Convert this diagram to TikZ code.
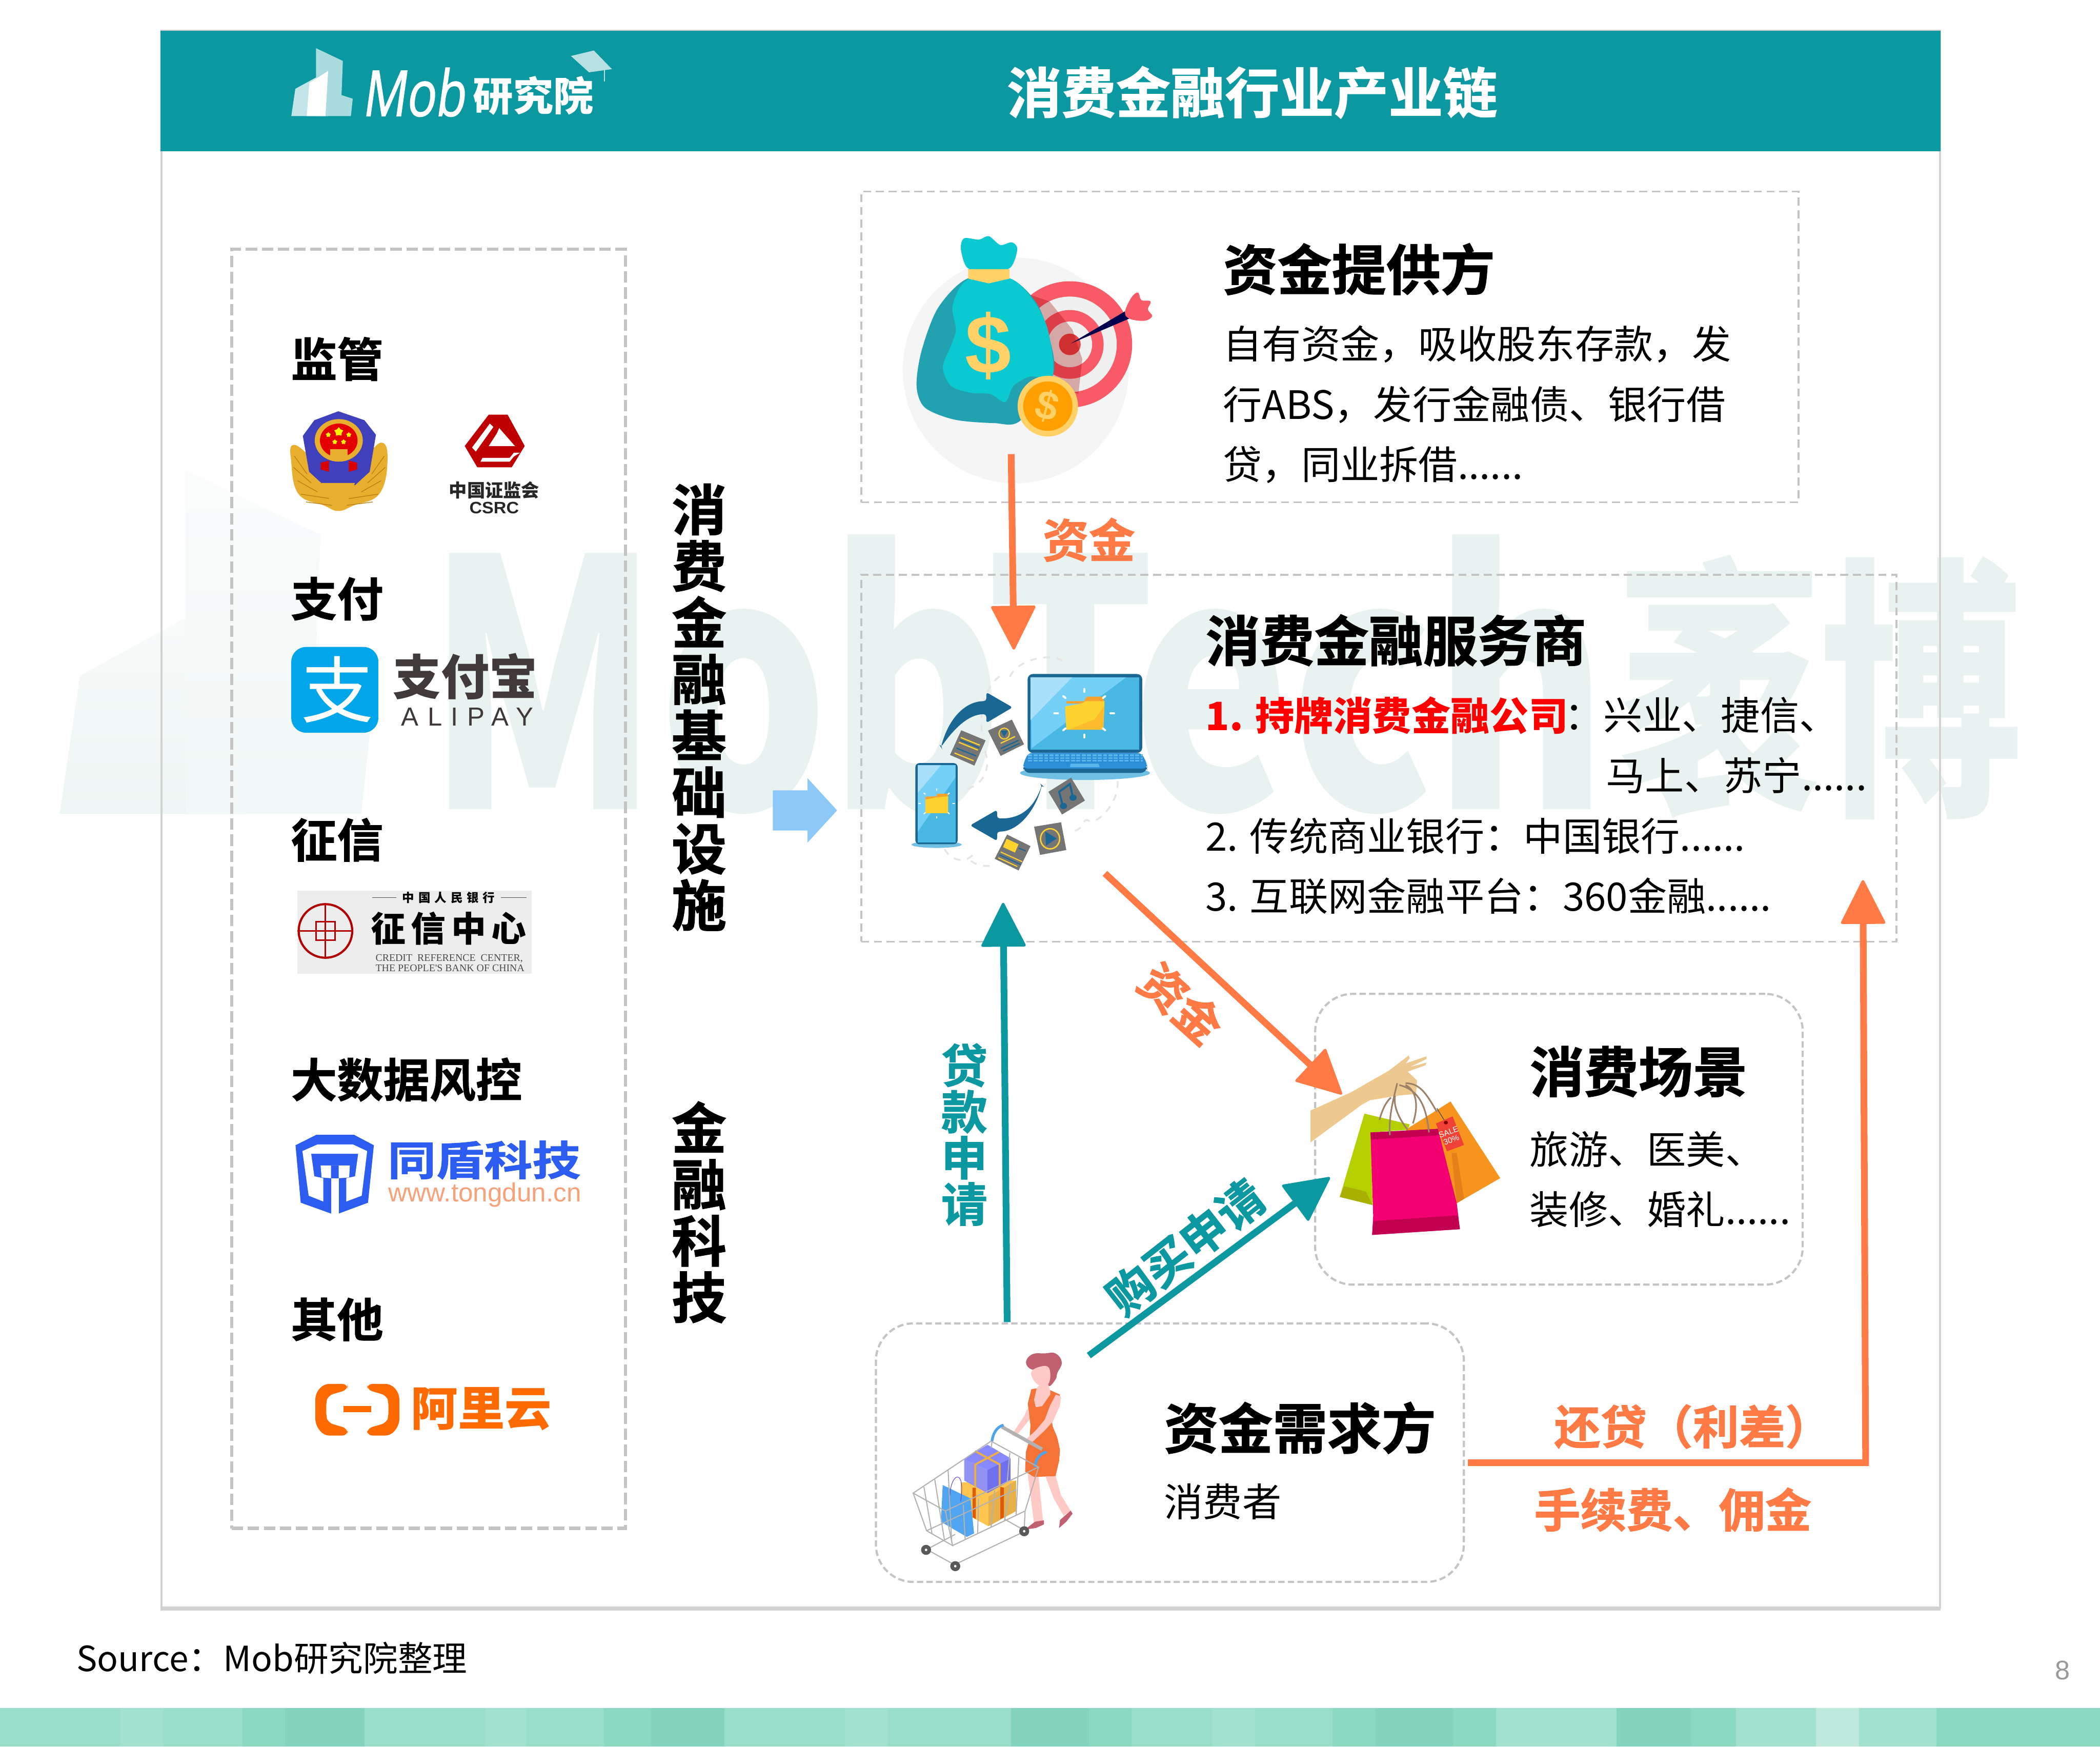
\documentclass[tikz,border=0pt]{standalone}
\usepackage{fontspec}
\setmainfont{Noto Sans CJK SC}
\newfontfamily\heavyfont[FakeBold=1.2]{Noto Sans CJK SC Bold}
\newfontfamily\latinfont{Liberation Sans}
\newfontfamily\alipayfont[LetterSpace=34]{Liberation Sans}
\newfontfamily\logofont[FakeSlant=0.14,FakeStretch=0.76,FakeBold=1.2]{Open Sans}
\newfontfamily\creditfont{Liberation Serif}
\usetikzlibrary{arrows.meta,shapes.geometric}
\newcommand{\fsz}[1]{\fontsize{#1}{#1}\selectfont}
\definecolor{teal0}{HTML}{0B98A0}
\definecolor{orange0}{HTML}{FF7A45}
\definecolor{gray0}{HTML}{C4C4C4}
\definecolor{wmark}{HTML}{E8F3F1}
\definecolor{dkblue}{HTML}{1A6794}
\definecolor{card}{HTML}{757575}
\definecolor{hair}{HTML}{C06070}
\definecolor{skin}{HTML}{FFC9C5}
\definecolor{band0}{HTML}{99DEC9}
\definecolor{band1}{HTML}{A2E1CE}
\definecolor{band2}{HTML}{8CD9C1}
\definecolor{band3}{HTML}{83D4BC}
\definecolor{scrA}{HTML}{48B8E3}
\definecolor{scrB}{HTML}{74D0F6}
\definecolor{scrC}{HTML}{A9DFF8}
\definecolor{shad}{HTML}{6FC0E2}
\definecolor{kbd}{HTML}{2A8FD6}
\definecolor{keyc}{HTML}{5AB5EA}
\definecolor{foldY}{HTML}{FFD32F}
\definecolor{foldB}{HTML}{FDBB2D}
\definecolor{foldO}{HTML}{F7A12F}
\definecolor{bagA}{HTML}{0BC9D0}
\definecolor{bagB}{HTML}{22A2B0}
\definecolor{sun}{HTML}{FFD166}
\definecolor{aim}{HTML}{F85A68}
\definecolor{gold}{HTML}{E8AE2E}
\definecolor{golddk}{HTML}{B97F14}
\definecolor{alitext}{HTML}{3F3A39}
\definecolor{alicyan}{HTML}{00A5EA}
\definecolor{aliorange}{HTML}{FF6A00}
\definecolor{tdblue}{HTML}{2D5CF0}
\definecolor{tdorange}{HTML}{F7A27B}
\definecolor{hand}{HTML}{EEC98F}
\definecolor{sackO}{HTML}{F7941E}
\definecolor{sackOd}{HTML}{E4801A}
\definecolor{sackG}{HTML}{B4D000}
\definecolor{sackGd}{HTML}{AAB000}
\definecolor{sackP}{HTML}{F20071}
\definecolor{sackPd}{HTML}{C20050}
\definecolor{tagred}{HTML}{EF4136}
\definecolor{dress}{HTML}{F57336}
\definecolor{grip}{HTML}{4DA3EE}
\definecolor{boxY}{HTML}{FEC551}
\definecolor{boxYd}{HTML}{E8B048}
\definecolor{boxRib}{HTML}{E05A08}
\definecolor{boxL}{HTML}{9292F2}
\definecolor{boxR}{HTML}{7070EE}
\definecolor{boxT}{HTML}{8888FF}
\definecolor{ribbon}{HTML}{F0B040}
\definecolor{totebag}{HTML}{4FA5EF}
\definecolor{toteloop}{HTML}{5540E0}
\definecolor{pointer}{HTML}{8CC8F8}
\begin{document}
\begin{tikzpicture}[x=1pt,y=-1pt,
    txt/.style={inner sep=0pt,anchor=west},
    heading/.style={txt,font=\heavyfont\fsz{40.6}},
    sidehead/.style={txt,font=\heavyfont\fsz{34.5}},
    body/.style={txt,font=\fsz{29.2}},
    stack/.style={inner sep=0pt,align=center,font=\heavyfont\fontsize{41}{42.2}\selectfont},
    dashbox/.style={draw=gray0,line width=1.4pt,dash pattern=on 6pt off 3.5pt,inner sep=0pt},
    sidebox/.style={draw=gray0,line width=2.5pt,dash pattern=on 8.5pt off 3.5pt,inner sep=0pt},
    roundbox/.style={draw=gray0,line width=1.6pt,dash pattern=on 4.7pt off 2.4pt,inner sep=0pt,rounded corners=28pt},
    flowtxt/.style={inner sep=0pt,font=\heavyfont\fsz{34.5},text=orange0},
    loantxt/.style={inner sep=0pt,font=\heavyfont\fsz{34.5},text=teal0},
    oflow/.style={draw=orange0,line width=5pt,-{Triangle[length=34pt,width=34pt,line width=2pt,round]}},
    tflow/.style={draw=teal0,line width=5pt,-{Triangle[length=34pt,width=34pt,line width=2pt,round]}},
    keys/.style={line width=1.4pt,dash pattern=on 3pt off 1pt},
    cartline/.style={draw=gray!60,line width=.8pt}]
\useasboundingbox (0,0) rectangle (1568,1304);
\fill[white] (0,0) rectangle (1568,1304);
% watermark
\begin{scope}[shift={(-1056,169)},scale=5.06]
\shade[top color=wmark!25,bottom color=wmark!80] (217.5,86.7)--(220.5,66.3)--(245,52.9)--(245,86.7)--cycle;
\shade[top color=wmark!25,bottom color=wmark!60] (236,36)--(256,45.5)--(255,71)--(263.4,73.7)--(262,86.7)--(236,86.7)--cycle;
\end{scope}
\node[inner sep=0pt,anchor=south west,text=wmark](MarkEn) at (318,608){\resizebox{882pt}{205pt}{\bfseries MobTech}};
\node[inner sep=0pt,anchor=south west,text=wmark](MarkCn) at (1208,612){\resizebox{302pt}{178pt}{\bfseries 袤博}};
% bottom band
\foreach \a/\b/\c in {0/90/band0,90/122/band1,122/181/band0,181/213/band2,213/272/band3,272/362/band0,362/393/band1,393/451/band0,451/486/band2,486/541/band3,541/631/band0,631/663/band1,663/755/band0,755/813/band3,813/845/band2,845/905/band0,905/937/band1,937/995/band0,995/1027/band2,1027/1085/band3,1085/1117/band2,1117/1207/band1,1207/1263/band3,1263/1296/band2,1296/1356/band1,1356/1388/band1!70!white,1388/1446/band1,1446/1478/band2,1478/1568/band2}
    \fill[\c] (\a,1275) rectangle (\b,1304);
% frame and header
\draw[draw=gray!35,line width=1.6pt] (120.5,23) rectangle (1448.5,1200);
\fill[gray!35] (120,1199.9) rectangle (1449,1202.3);
\fill[teal0] (120,23) rectangle (1449,113);
\node[inner sep=0pt,font=\heavyfont\fsz{40.7},text=white](Title) at (935,69){消费金融行业产业链};
\fill[teal0!25!white] (217.5,86.7)--(220.5,66.3)--(245,52.9)--(245,86.7)--cycle;
\fill[teal0!35!white] (236,36)--(256,45.5)--(255,71)--(263.4,73.7)--(262,86.7)--(236,86.7)--cycle;
\fill[white] (229,86.7)--(231,62)--(245,52.9)--(243,86.7)--cycle;
\fill[teal0!30!white] (426.3,41.8)--(443.4,37.7)--(456.9,51.6)--(439.8,54)--cycle;
\draw[teal0!30!white,line width=.8pt] (451.5,52)--(451.5,61);
\node[inner sep=0pt,anchor=base west,text=white,font=\logofont\fsz{47.5}](MobLogo) at (270,86.7){Mob};
\node[inner sep=0pt,anchor=base west,text=white,font=\bfseries\fsz{30}](MobLab) at (353,83){研究院};
% left column
\node[sidebox,minimum width=294pt,minimum height=955pt](Infra) at (320,663.5){};
\node[sidehead](Regulate) at (217,268){监管};
\node[sidehead](Payment) at (217,447){支付};
\node[sidehead](Credit) at (217,627){征信};
\node[sidehead](BigData) at (217,806){大数据风控};
\node[sidehead](Others) at (217,985){其他};
% police badge and csrc
\begin{scope}[shift={(202.7,297)},xscale=.156,yscale=.1672]
\fill[gold] plot[smooth cycle,tension=.7] coordinates {(110,210)(95,290)(130,430)(250,480)(320,505)(395,480)(515,430)(555,290)(525,200)(400,300)(250,300)};
\foreach \p/\q/\r/\s in {110/260/170/340,105/310/190/380,125/370/220/420,140/430/280/450,165/465/290/480,540/260/480/340,545/310/460/380,525/370/430/420,510/430/370/450,485/465/360/480}
    \draw[golddk,line width=.5pt] (\p,\q)--(\r,\s);
\fill[blue!65!black!75!white] (150,170)--(205,100)--(320,60)--(445,100)--(500,165)--(470,330)--(400,390)--(250,390)--(180,330)--cycle;
\fill[gold] (322,190) ellipse (115 and 95);
\fill[red!90!black] (322,190) ellipse (90 and 75);
\fill[gold] (280,230) rectangle (365,265);
\fill[red!85!black] (235,290)--(275,280)--(275,330)--(235,320)--cycle;
\fill[red!85!black] (410,290)--(370,280)--(370,330)--(410,320)--cycle;
\fill[gold] (240,380)--(400,380)--(340,500)--(300,500)--cycle;
\foreach \i/\p/\q/\m in {1/322/152/7pt,2/272/165/4pt,3/370/165/4pt,4/303/197/4pt,5/345/197/4pt}
    \node[star,star points=5,fill=yellow,inner sep=0pt,minimum size=\m](Star\i) at (\p,\q){};
% csrc sign
\fill[red!75!black] (1040,75)--(1130,75)--(1212,215)--(1150,310)--(985,310)--(925,215)--cycle;
\fill[white] (1045,115)--(960,222)--(978,240)--(1062,130)--cycle;
\fill[white] (1090,135)--(1165,215)--(1040,215)--(1078,160)--cycle;
\fill[white] (1010,268)--(1140,268)--(1160,245)--(1190,245)--(1160,262)--(1140,285)--(1000,285)--cycle;
\end{scope}
\node[inner sep=0pt,font=\bfseries\fsz{13.5},text=black!85](CsrcCn) at (369,366){中国证监会};
\node[inner sep=0pt,font=\latinfont\bfseries,text=black!85](CsrcEn) at (369,379){\resizebox{37pt}{8.6pt}{CSRC}};
% alipay
\node[fill=alicyan,rounded corners=11pt,minimum width=65pt,minimum height=64pt,inner sep=0pt](PayIcon) at (250,515){};
\node[inner sep=0pt,text=white,font=\fsz{54}](PayGlyph) at (252,515){支};
\node[inner sep=0pt,text=alitext,font=\bfseries\fsz{36}](PayCn) at (347.5,505){支付宝};
\node[inner sep=0pt,text=alitext,font=\alipayfont\fsz{19.5}](PayEn) at (349,535){ALIPAY};
% credit center
\node[fill=black!7,minimum width=175pt,minimum height=62pt,inner sep=0pt](CreditBg) at (309.5,696){};
\node[draw=red!70!black,circle,line width=1.6pt,minimum size=40pt,inner sep=0pt](CreditSeal) at (243,695){};
\draw[red!70!black,line width=1.2pt] (CreditSeal.west)--(CreditSeal.east) (CreditSeal.north)--(CreditSeal.south) (236,688) rectangle (250,702);
\node[inner sep=0pt,font=\bfseries\fsz{9}](CreditTop) at (335,670){中\hspace{3pt}国\hspace{3pt}人\hspace{3pt}民\hspace{3pt}银\hspace{3pt}行};
\draw[black!70,line width=.4pt] (278,670)--(296,670) (374,670)--(393,670);
\node[inner sep=0pt,font=\bfseries\fsz{26}](CreditName) at (335,693){征\hspace{4pt}信\hspace{4pt}中\hspace{4pt}心};
\node[inner sep=0pt,align=left,font=\creditfont\fsz{7.6},text=black!70](CreditEn) at (336,719){CREDIT\ \ REFERENCE\ \ CENTER,\\THE PEOPLE'S BANK OF CHINA};
% tongdun
\begin{scope}[shift={(202.7,646.4)},xscale=.156,yscale=.2897]
\fill[tdblue] (115,720)--(215,693)--(395,693)--(490,720)--(462,868)--(322,896)--(285,896)--(140,868)--cycle;
\fill[white] (148,735)--(220,718)--(390,718)--(458,735)--(432,850)--(358,865)--(358,805)--(400,800)--(415,742)--(190,742)--(205,800)--(248,805)--(248,865)--(178,850)--cycle;
\fill[white] (235,772)--(375,772)--(372,803)--(322,805)--(322,772)--(285,772)--(285,805)--(240,803)--cycle;
\fill[white] (285,805) rectangle (322,896);
\end{scope}
\node[inner sep=0pt,text=tdblue,font=\heavyfont](TdCn) at (361.5,866){\resizebox{144pt}{26pt}{同盾科技}};
\node[inner sep=0pt,text=tdorange](TdEn) at (362,892){\resizebox{144pt}{!}{\latinfont www.tongdun.cn}};
% aliyun
\begin{scope}[shift={(202.7,646.4)},xscale=.156,yscale=.2897]
\fill[aliorange,rounded corners=4pt] (365,1335)--(250,1335)--(210,1360)--(210,1440)--(250,1468)--(365,1468)--(365,1450)--(270,1435)--(262,1420)--(262,1380)--(270,1365)--(365,1350)--cycle;
\fill[aliorange,rounded corners=4pt] (457,1335)--(572,1335)--(612,1360)--(612,1440)--(572,1468)--(457,1468)--(457,1450)--(552,1435)--(560,1420)--(560,1380)--(552,1365)--(457,1350)--cycle;
\fill[aliorange] (345,1392) rectangle (478,1408);
\end{scope}
\node[inner sep=0pt,text=aliorange,font=\bfseries\fsz{35}](AliCn) at (359.5,1052){阿里云};
% middle column
\node[stack](InfraTxt) at (522,528){消\\费\\金\\融\\基\\础\\设\\施};
\node[stack](TechTxt) at (522,905){金\\融\\科\\技};
\fill[pointer] (577,590)--(603,590)--(603,581)--(625,605)--(603,629)--(603,620)--(577,620)--cycle;
% boxes
\node[dashbox,minimum width=700pt,minimum height=232pt](Provider) at (993,259){};
\node[dashbox,minimum width=773pt,minimum height=274pt](Servicer) at (1029.5,566){};
\node[roundbox,minimum width=364pt,minimum height=217pt](Scene) at (1164,850.5){};
\node[roundbox,minimum width=439pt,minimum height=193pt](Borrower) at (873.5,1084.5){};
% money bag
\begin{scope}[shift={(646.4,139.8)},xscale=.245,yscale=.2005]
\fill[black!4] (457,682) ellipse (344 and 420);
\fill[aim] (622,585) ellipse (190 and 235);
\fill[black!6] (622,585) ellipse (143 and 178);
\fill[aim] (622,585) ellipse (103 and 128);
\fill[black!6] (622,585) ellipse (68 and 85);
\fill[red!70!white!90!black] (622,585) ellipse (33 and 40);
\fill[red!60!black,opacity=.3] (500,400)--(560,425)--(630,530)--(660,640)--(648,770)--(560,720)--cycle;
\fill[blue!30!black] (625,582)--(790,462)--(805,488)--cycle;
\fill[aim] plot[smooth cycle,tension=.6] coordinates {(790,465)(810,410)(830,392)(840,420)(868,425)(860,455)(873,480)(850,497)(805,490)};
\fill[bagB] plot[smooth cycle,tension=.5] coordinates {(310,340)(440,340)(520,430)(560,560)(570,700)(470,870)(390,878)(270,865)(180,820)(155,740)(170,610)(220,450)};
\fill[bagA] plot[smooth cycle,tension=.5] coordinates {(310,345)(440,340)(510,420)(555,530)(570,700)(500,705)(450,740)(425,800)(380,770)(320,765)(260,740)(235,670)(260,590)(275,530)(265,440)};
\fill[bagA] plot[smooth cycle,tension=.5] coordinates {(290,230)(300,190)(345,195)(375,182)(410,215)(445,205)(462,230)(440,300)(372,315)(310,300)};
\fill[sun] (312,305)--(438,305)--(438,340)--(375,358)--(312,340)--cycle;
\fill[sun] (555,815) ellipse (92 and 113);
\fill[orange!75!yellow] (555,815) ellipse (75 and 92);
\end{scope}
\node[inner sep=0pt,text=sun,font=\latinfont\bfseries\fsz{62}](BagDollar) at (738,258){\$};
\node[inner sep=0pt,rotate=-15,text=sun,font=\latinfont\bfseries\fsz{30}](CoinDollar) at (782,303){\$};
% laptop and phone
\begin{scope}[shift={(646.4,454.2)},xscale=.1783,yscale=.1449]
\draw[black!10,line width=1.3pt,dash pattern=on 5pt off 5pt] (825,270) .. controls (760,220) and (600,280) .. (600,380) (560,350) .. controls (470,440) and (470,620) .. (510,780) .. controls (510,870) and (470,920) .. (410,935);
\draw[black!10,line width=1.3pt,dash pattern=on 5pt off 5pt] (1055,890) .. controls (1060,1000) and (980,1100) .. (940,1100) .. controls (900,1060) and (930,1150) .. (850,1150) (330,1240) .. controls (360,1310) and (440,1320) .. (460,1240) (440,1300) .. controls (470,1330) and (510,1330) .. (530,1325);
\fill[shad] (918,848) ellipse (272 and 36);
\fill[dkblue,rounded corners=4pt] (678,338) rectangle (1158,745);
\fill[scrA] (690,355) rectangle (1145,728);
\fill[scrB] (695,720)--(1090,355)--(690,355)--cycle;
\fill[scrC] (690,575)--(865,355)--(690,355)--cycle;
\fill[foldO] (840,478)--(915,478)--(925,455)--(995,455)--(1000,490)--(840,490)--cycle;
\fill[foldY] (835,505)--(905,490)--(920,478)--(1000,478)--(995,625)--(840,625)--cycle;
\fill[foldB] (850,625)--(995,625)--(1000,500)--(960,570)--cycle;
\foreach \a in {0,45,...,315}
    \draw[white,line width=1.5pt,line cap=round,shift={(915,540)}] (\a:125)--(\a:110);
\fill[dkblue,rounded corners=5pt] (660,800)--(1178,800)--(1178,848)--(660,848)--cycle;
\fill[kbd,rounded corners=3pt] (680,745)--(1155,745)--(1178,800)--(1178,825)--(660,825)--(660,800)--cycle;
\foreach \y in {757,771,785}
    \draw[keys,keyc] (680,\y)--(1160,\y);
\fill[keyc] (858,800)--(975,800)--(980,818)--(855,818)--cycle;
% phone
\fill[shad] (297,1217) ellipse (105 and 17);
\fill[dkblue,rounded corners=3pt] (208,797) rectangle (385,1215);
\fill[scrA] (218,808) rectangle (376,1205);
\fill[scrB] (218,1150)--(376,870)--(376,808)--(218,808)--cycle;
\fill[scrC] (218,950)--(315,808)--(218,808)--cycle;
\fill[foldO] (250,970)--(295,968)--(300,955)--(345,955)--(345,975)--(250,985)--cycle;
\fill[foldY] (250,985)--(290,975)--(345,968)--(345,1055)--(250,1055)--cycle;
\foreach \a in {0,45,...,315}
    \draw[white,line width=.9pt,line cap=round,shift={(297,1005)}] (\a:75)--(\a:68);
% curved arrows
\fill[dkblue,rounded corners=2pt] (315,715) .. controls (350,560) and (420,478) .. (505,478)--(505,432)--(615,510)--(505,590)--(505,545) .. controls (430,545) and (370,620) .. cycle;
\fill[dkblue,rounded corners=2pt] (738,910) .. controls (700,1040) and (640,1085) .. (550,1082)--(550,1038)--(437,1118)--(550,1198)--(550,1150) .. controls (640,1150) and (710,1040) .. cycle;
% cards
\fill[card] (400,628)--(502,680)--(455,810)--(353,755)--cycle;
\draw[foldY,line width=.9pt] (398,665)--(478,705) (390,690)--(470,730) (372,745)--(452,785);
\draw[dkblue,line width=.9pt] (395,678)--(475,718) (380,720)--(462,760);
\fill[card] (612,573)--(663,700)--(565,760)--(512,630)--cycle;
\draw[foldY,line width=.8pt] (580,645) ellipse (22 and 28);
\fill[dkblue] (565,630)--(595,630)--(580,662)--cycle;
\draw[foldY,line width=.9pt] (565,695)--(625,660);
\draw[dkblue,line width=.9pt] (565,722)--(640,680) (575,735)--(645,695);
\fill[card] (860,872)--(918,990)--(822,1062)--(765,945)--cycle;
\draw[dkblue,line width=1.5pt] (825,1015)--(810,945)--(855,905)--(870,985);
\fill[dkblue] (828,1018) ellipse (15 and 16) (868,975) ellipse (15 and 16);
\fill[card] (705,1125)--(818,1102)--(840,1245)--(730,1270)--cycle;
\draw[foldY,line width=1pt] (772,1187) ellipse (40 and 52);
\fill[dkblue] (752,1150)--(800,1185)--(755,1222)--cycle;
\fill[card] (592,1165)--(690,1225)--(640,1350)--(540,1290)--cycle;
\fill[foldY] (590,1187)--(640,1215)--(625,1258)--(575,1230)--cycle;
\draw[foldY,line width=.8pt] (565,1255)--(655,1305) (555,1285)--(635,1330);
\draw[dkblue,line width=.8pt] (560,1270)--(650,1320) (640,1235)--(670,1250);
\end{scope}
% shopping bags
\begin{scope}[shift={(943.4,733.8)},xscale=.156,yscale=.1337]
\fill[hand] (225,712)--(250,700)--(420,610)--(600,490)--(695,405)--(700,420)--(680,450)--(780,410)--(780,425)--(700,470)--(780,445)--(775,460)--(690,495)--(735,545)--(730,620)--(680,625)--(640,630)--(510,655)--(470,680)--(225,890)--cycle;
\fill[sackO] (680,820)--(895,662)--(1133,1090)--(925,1230)--cycle;
\fill[sackOd] (900,950)--(925,950)--(960,1205)--(925,1230)--cycle;
\fill[sackG] (483,730)--(700,790)--(690,820)--(515,835)--(522,1240)--(365,1195)--cycle;
\fill[sackGd] (385,1135)--(490,1165)--(522,1240)--(365,1195)--cycle;
\fill[sackP] (512,835)--(835,815)--(925,1230)--(940,1375)--(520,1407)--(525,1300)--cycle;
\fill[sackPd] (512,835)--(835,815)--(842,850)--(515,875)--cycle;
\fill[sackPd] (525,1330)--(930,1298)--(940,1375)--(520,1407)--cycle;
\draw[brown!60!black!70,line width=1.2pt] (555,765) .. controls (570,700) and (590,660) .. (610,640) (605,850) .. controls (600,750) and (615,680) .. (640,560) (690,820) .. controls (650,760) and (620,690) .. (630,630) (715,785) .. controls (745,680) and (730,600) .. (680,570) (792,835) .. controls (780,700) and (750,600) .. (650,570) (830,720) .. controls (780,620) and (750,560) .. (680,560);
\draw[black!70,line width=.5pt] (830,700)--(872,780);
\fill[tagred] (825,785)--(905,745)--(960,905)--(878,940)--cycle;
\fill[black!50!red] (873,780) circle (10);
\end{scope}
\node[inner sep=0pt,rotate=20,align=center,text=white,font=\latinfont\fsz{6}](SaleTag) at (1082.6,848){SALE\\30\%};
% shopper
\begin{scope}[shift={(646.4,978.3)},scale=.1337]
\fill[skin] (905,915)--(965,930)--(990,1175)--(940,1190)--cycle;
\fill[skin] (1005,930)--(1060,920)--(1090,1030)--(1145,1120)--(1105,1145)--(1050,1050)--cycle;
\fill[hair] (900,1215)--(945,1180)--(995,1172)--(995,1195)--(950,1215)--(900,1222)--cycle;
\fill[hair] (1145,1118)--(1155,1135)--(1120,1180)--(1080,1215)--(1085,1170)--cycle;
\fill[skin] (905,545)--(915,610)--(870,665)--(835,705)--(815,695)--(845,650)--(885,590)--cycle;
\fill[dress] (925,440)--(905,520)--(920,640)--(915,720)--(895,790)--(890,900)--(940,930)--(1060,925)--(1080,840)--(1085,780)--(1070,710)--(1045,650)--(1040,620)--(1085,470)--(1030,445)--(1030,470)--(985,530)--(950,540)--(940,500)--(955,435)--cycle;
\fill[hair] plot[smooth cycle,tension=.7] coordinates {(895,290)(930,245)(1000,240)(1060,240)(1095,290)(1070,350)(1060,385)(1020,420)(1010,320)(930,330)};
\fill[skin] plot[smooth cycle,tension=.7] coordinates {(930,335)(1005,310)(1030,345)(1020,410)(975,420)(935,385)};
\fill[skin] (975,410)--(1018,410)--(1030,450)--(1030,470)--(985,535)--(950,540)--(940,500)--(955,435)--cycle;
\fill[skin] (1062,470)--(1090,480)--(1085,530)--(1045,620)--(1000,670)--(925,740)--(905,740)--(895,720)--(950,670)--(1000,610)--(1030,530)--cycle;
\draw[gray!60,line width=2.6pt] (760,650)--(985,775);
\draw[grip,line width=2pt] (770,640) .. controls (730,650) and (710,690) .. (705,730) (1010,790) .. controls (970,800) and (950,830) .. (945,875);
\fill[boxY] (530,960)--(840,950)--(840,1120)--(685,1205)--(530,1120)--cycle;
\fill[boxYd] (685,1040)--(840,950)--(840,1120)--(685,1205)--cycle;
\fill[boxRib] (597,990)--(615,990)--(615,1165)--(597,1155)--cycle (752,985)--(772,990)--(772,1155)--(752,1165)--cycle;
\fill[boxL] (550,830)--(680,890)--(680,1020)--(550,950)--cycle;
\fill[boxR] (680,890)--(808,825)--(808,950)--(680,1020)--cycle;
\fill[boxT] (550,830)--(680,750)--(808,825)--(680,890)--cycle;
\draw[ribbon,line width=1.4pt] (610,785)--(748,860)--(748,990) (745,790)--(612,860)--(612,985);
\fill[totebag] (430,975)--(585,1050)--(605,1245)--(565,1265)--(420,1180)--cycle;
\draw[toteloop,line width=.4pt] (470,1035) .. controls (475,900) and (560,880) .. (530,1065);
\draw[cartline] (265,1020)--(700,730)--(965,875)--(445,1120)--cycle;
\draw[cartline] (265,1020)--(340,1230)--(485,1313)--(445,1120) (485,1313)--(890,1120)--(965,875) (340,1230)--(840,1000);
\foreach \p/\q/\r/\s in {325/985/370/1245,385/940/440/1285,460/890/480/1295,545/1085/555/1275,630/1050/625/1245,720/1005/700/1210,808/965/775/1175,855/820/840/1140,805/795/790/960,705/735/700/770}
    \draw[cartline] (\p,\q)--(\r,\s);
\draw[cartline] (340,1335)--(500,1250) (360,1345)--(495,1420)--(885,1235) (890,1120)--(885,1225) (775,1165)--(880,1225);
\foreach \p/\q in {337/1337,885/1233,500/1428} {
    \fill[black!65] (\p,\q) circle (28);
    \fill[white] (\p,\q) circle (7);
}
\end{scope}
% main arrows
\coordinate(FundOut) at (755,339);
\coordinate(FundIn) at (757,485);
\coordinate(PayOut) at (825,652);
\coordinate(PayIn) at (1002,817);
\coordinate(LoanOut) at (752,987);
\coordinate(LoanIn) at (749,674);
\coordinate(BuyOut) at (813,1012);
\coordinate(BuyIn) at (993,879);
\coordinate(RepayOut) at (1096,1092);
\coordinate(RepayBend) at (1393,1092);
\coordinate(RepayIn) at (1391,657);
\draw[oflow] (FundOut) -- (FundIn);
\draw[oflow] (PayOut) -- (PayIn);
\draw[tflow] (LoanOut) -- (LoanIn);
\draw[tflow] (BuyOut) -- (BuyIn);
\draw[oflow] (RepayOut) -- (RepayBend) -- (RepayIn);
\node[flowtxt](FundTxt) at (813,403){资金};
\node[flowtxt,rotate=-42](PayTxt) at (882,749){资金};
\node[loantxt,align=center](LoanTxt) at (720,847){贷\\款\\申\\请};
\node[loantxt,rotate=38](BuyTxt) at (885,931){购买申请};
\node[flowtxt](RepayTxt) at (1264,1065){还贷（利差）};
\node[flowtxt](FeeTxt) at (1249,1127){手续费、佣金};
% box texts
\node[heading](ProviderHead) at (913,201){资金提供方};
\node[body](ProviderA) at (913,257){自有资金，吸收股东存款，发};
\node[body](ProviderB) at (913,302){行ABS，发行金融债、银行借};
\node[body](ProviderC) at (913,347){贷，同业拆借......};
\node[heading](ServicerHead) at (900,478){消费金融服务商};
\node[body,text=red,font=\bfseries\fsz{29.2}](ServicerA) at (900,534){1. 持牌消费金融公司};
\node[body](ServicerB) at (1168,534){：兴业、捷信、};
\node[body](ServicerC) at (1199,579){马上、苏宁......};
\node[body](ServicerD) at (900,624){2. 传统商业银行：中国银行......};
\node[body](ServicerE) at (900,669){3. 互联网金融平台：360金融......};
\node[heading](SceneHead) at (1142,800){消费场景};
\node[body](SceneA) at (1142,858){旅游、医美、};
\node[body](SceneB) at (1142,903){装修、婚礼......};
\node[heading](BorrowerHead) at (869,1066){资金需求方};
\node[body](BorrowerA) at (869,1121){消费者};
% footer
\node[txt,font=\fsz{25.9}](Source) at (57,1238){Source：Mob研究院整理};
\node[inner sep=0pt,text=black!40,font=\latinfont\fsz{20}](PageNo) at (1540,1247){8};
\end{tikzpicture}
\end{document}
